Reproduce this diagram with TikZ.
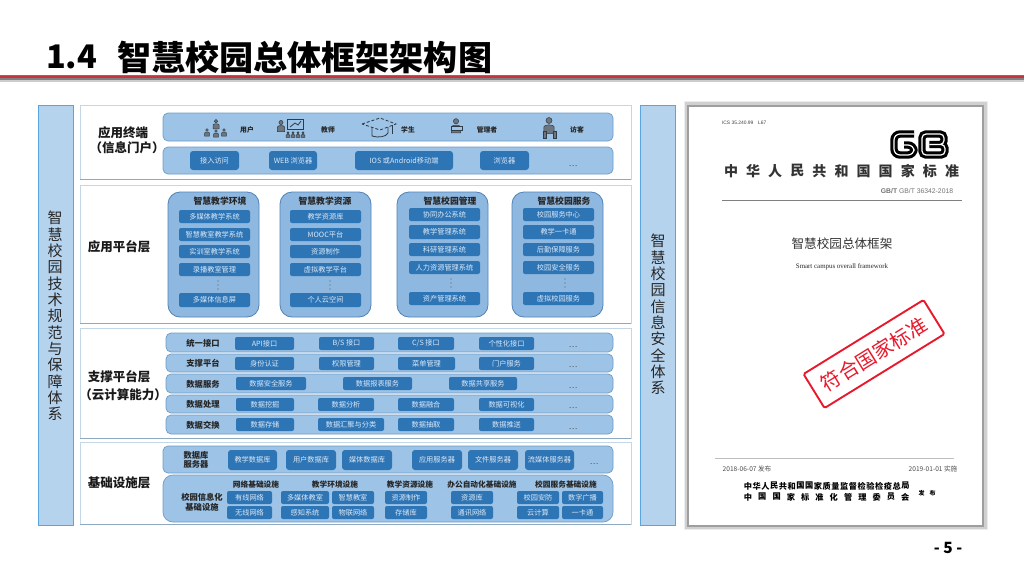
\documentclass[tikz,border=0pt]{standalone}
\usepackage{fontspec}
\setmainfont{Noto Sans CJK SC}
\newfontfamily\latinsans{Liberation Sans}
\newfontfamily\latinserif{Liberation Serif}
\definecolor{colfill}{HTML}{B6D3EE}
\definecolor{colline}{HTML}{5BA5DE}
\definecolor{rowfill}{HTML}{9DC3E6}
\definecolor{rowline}{HTML}{6F9CC8}
\definecolor{panelfill}{HTML}{8FB8E0}
\definecolor{panelline}{HTML}{4F83B8}
\definecolor{btnfill}{HTML}{2E75B6}
\definecolor{btntext}{HTML}{DCE9F6}
\definecolor{framelight}{HTML}{C4D7E6}
\definecolor{framedark}{HTML}{8FAABF}
\definecolor{stampred}{HTML}{E8192C}
\definecolor{titlered}{HTML}{C8323F}
\definecolor{icondark}{HTML}{2F3B47}
\newcommand\fs[1]{\fontsize{#1}{#1}\selectfont}
\tikzset{
  base/.style={inner sep=0pt,outer sep=0pt,align=center},
  framebox/.style={base,fill=white,draw=framelight,line width=.9pt},
  colbox/.style={base,fill=colfill,draw=colline,line width=.9pt},
  rowbox/.style={base,fill=rowfill,draw=rowline,line width=.7pt,rounded corners=5pt},
  panelbox/.style={base,fill=panelfill,draw=panelline,line width=.8pt,rounded corners=12pt},
  btn/.style={base,fill=btnfill,rounded corners=2pt,text=btntext,font=\fs{7.2}},
  bigbtn/.style={btn,rounded corners=3pt},
  head/.style={base,font=\fs{12.5}\bfseries,text=black!90},
  sub/.style={base,font=\fs{8.3}\bfseries,text=black!85},
  paneltitle/.style={base,font=\fs{8.8}\bfseries,text=black!85},
  infrahead/.style={base,font=\fs{7.7}\bfseries,text=black!85},
  iconlabel/.style={base,font=\fs{6.8}\bfseries,text=black!85},
  coltxt/.style={base,font=\fs{15},text=black!85},
  more/.style={base,font=\fs{8},text=black!70},
  icon/.style={draw=icondark,line width=.8pt,fill=none},
  iconfill/.style={draw=icondark,line width=.5pt,fill=icondark!70!white},
}
\newcommand\bx[6]{\node[#5,minimum width={(#3-#1)*1pt},minimum height={(#4-#2)*1pt}] (n#1-#2) at ({(#1+#3)/2},{(#2+#4)/2}) {#6};}
\newcommand\txt[4]{\node[#3] (t#1-#2) at (#1,#2) {#4};}
\newcommand\vd[2]{\fill[black!65] (#1,#2-4) circle (.6) (#1,#2) circle (.6) (#1,#2+4) circle (.6);}
\newcommand\persn[3]{%
  \draw[iconfill] (#1,#2-5*#3) circle ({2.3*#3});
  \draw[iconfill] (#1-4*#3,#2+5*#3) -- (#1-4*#3,#2) .. controls (#1-4*#3,#2-2.2*#3) and (#1+4*#3,#2-2.2*#3) .. (#1+4*#3,#2) -- (#1+4*#3,#2+5*#3) -- cycle;}
\begin{document}
\begin{tikzpicture}[x=1pt,y=-1pt]
\useasboundingbox (0,0) rectangle (1024,570);
\fill[white] (0,0) rectangle (1024,570);

% title
\node[base,anchor=west,font=\fs{32.5}\bfseries] (tnum) at (46,57) {1.4};
\node[base,anchor=west,font=\fs{34.1}\bfseries] (ttitle) at (117,57) {智慧校园总体框架架构图};
\fill[black!55] (0,75.2) rectangle (1024,76);
\fill[titlered] (0,76) rectangle (1024,78.4);
\fill[black!50] (0,78.4) rectangle (1024,80.4);
\fill[black!20] (0,80.4) rectangle (1024,81.5);

% side columns
\bx{38}{105}{73}{525}{colbox}{}
\bx{640}{105}{675}{525}{colbox}{}
\foreach \c [count=\i from 0] in {智,慧,校,园,技,术,规,范,与,保,障,体,系}
  \node[coltxt] (lc\i) at (55,{218+16.35*\i}) {\c};
\foreach \c [count=\i from 0] in {智,慧,校,园,信,息,安,全,体,系}
  \node[coltxt] (rc\i) at (658,{241+16.35*\i}) {\c};

% frames
\bx{80}{105}{631}{179}{framebox}{}
\bx{80}{185}{631}{323}{framebox}{}
\bx{80}{328}{631}{438}{framebox}{}
\bx{80}{442}{631}{524}{framebox}{}
\foreach \f in {n80-105,n80-185,n80-328,n80-442}
  \draw[framedark,line width=1pt] (\f.south west) -- (\f.south east);

% terminal layer
\txt{123}{133}{head}{应用终端}
\txt{127}{148}{head}{（信息门户）}
\bx{163}{113}{613}{141}{rowbox}{}
\bx{163}{147}{613}{174}{rowbox}{}
\txt{247}{130}{iconlabel}{用户}
\txt{328}{130}{iconlabel}{教师}
\txt{408}{130}{iconlabel}{学生}
\txt{487}{130}{iconlabel}{管理者}
\txt{577}{130}{iconlabel}{访客}
\bx{190}{151}{239}{170}{bigbtn}{接入访问}
\bx{269}{151}{317}{170}{bigbtn}{WEB 浏览器}
\bx{355}{151}{453}{170}{bigbtn}{IOS 或Android移动端}
\bx{480}{151}{529}{170}{bigbtn}{浏览器}
\txt{573}{166}{more}{…}

% icons: users
\persn{216}{125}{.75}
\persn{207}{133}{.6}
\persn{216}{134}{.6}
\persn{224}{133}{.6}
% icons: teacher
\draw[icon] (287,119) rectangle (303,129);
\draw[icon] (290,127) -- (295,123) -- (298,125) -- (301,121);
\persn{281}{127}{.9}
\foreach \p in {288,293,298,303}{\persn{\p}{135}{.45}}
% icons: cap
\draw[icon,fill=rowfill] (372,127) -- (372,136) .. controls (378,138) and (386,137) .. (388,133) -- (388,127);
\draw[icon,fill=rowfill,densely dashed] (362,124) -- (380,118) -- (396,124) -- (380,130) -- cycle;
\draw[icon] (392,125) -- (392,134);
% icons: manager, visitor
\persn{456}{127}{1.15}
\draw[icon,fill=rowfill] (451,126) rectangle (462,130);
\persn{549}{127}{1.3}
\draw[iconfill] (543,131) rectangle (546,138) (553,131) rectangle (556,138);

% platform layer
\txt{119}{247}{head}{应用平台层}
\bx{168}{192}{259}{317}{panelbox}{}
\bx{280}{192}{371}{317}{panelbox}{}
\bx{397}{192}{488}{317}{panelbox}{}
\bx{512}{192}{603}{317}{panelbox}{}
\txt{220}{201}{paneltitle}{智慧教学环境}
\txt{325}{201}{paneltitle}{智慧教学资源}
\txt{450}{201}{paneltitle}{智慧校园管理}
\txt{564}{201}{paneltitle}{智慧校园服务}
\bx{179}{210}{250}{223}{btn}{多媒体教学系统}
\bx{179}{228}{250}{241}{btn}{智慧教室教学系统}
\bx{179}{245}{250}{258}{btn}{实训室教学系统}
\bx{179}{263}{250}{276}{btn}{录播教室管理}
\vd{218}{285}
\bx{179}{293}{250}{307}{btn}{多媒体信息屏}
\bx{290}{210}{361}{223}{btn}{教学资源库}
\bx{290}{228}{361}{241}{btn}{MOOC平台}
\bx{290}{245}{361}{258}{btn}{资源制作}
\bx{290}{263}{361}{276}{btn}{虚拟教学平台}
\vd{330}{285}
\bx{290}{293}{361}{307}{btn}{个人云空间}
\bx{409}{208}{480}{221}{btn}{协同办公系统}
\bx{409}{225}{480}{239}{btn}{教学管理系统}
\bx{409}{243}{480}{256}{btn}{科研管理系统}
\bx{409}{261}{480}{274}{btn}{人力资源管理系统}
\vd{451}{283}
\bx{409}{292}{480}{305}{btn}{资产管理系统}
\bx{523}{208}{594}{221}{btn}{校园服务中心}
\bx{523}{225}{594}{239}{btn}{教学一卡通}
\bx{523}{243}{594}{256}{btn}{后勤保障服务}
\bx{523}{261}{594}{274}{btn}{校园安全服务}
\vd{565}{283}
\bx{523}{292}{594}{305}{btn}{虚拟校园服务}

% support layer
\txt{119}{377}{head}{支撑平台层}
\txt{123}{395}{head}{（云计算能力）}
\bx{166}{333}{613}{352}{rowbox}{}
\bx{166}{354}{613}{372}{rowbox}{}
\bx{166}{374}{613}{393}{rowbox}{}
\bx{166}{395}{613}{413}{rowbox}{}
\bx{166}{415}{613}{434}{rowbox}{}
\txt{203}{343}{sub}{统一接口}
\txt{203}{363}{sub}{支撑平台}
\txt{203}{384}{sub}{数据服务}
\txt{203}{404}{sub}{数据处理}
\txt{203}{425}{sub}{数据交换}
\bx{235}{337}{294}{350}{btn}{API接口}
\bx{319}{337}{374}{350}{btn}{B/S 接口}
\bx{398}{337}{454}{350}{btn}{C/S 接口}
\bx{479}{337}{534}{350}{btn}{个性化接口}
\txt{573}{347}{more}{…}
\bx{235}{357}{294}{370}{btn}{身份认证}
\bx{319}{357}{374}{370}{btn}{权限管理}
\bx{398}{357}{455}{370}{btn}{菜单管理}
\bx{479}{357}{534}{370}{btn}{门户服务}
\txt{573}{367}{more}{…}
\bx{236}{377}{306}{390}{btn}{数据安全服务}
\bx{343}{377}{412}{390}{btn}{数据报表服务}
\bx{449}{377}{517}{390}{btn}{数据共享服务}
\txt{573}{388}{more}{…}
\bx{236}{398}{294}{411}{btn}{数据挖掘}
\bx{318}{398}{374}{411}{btn}{数据分析}
\bx{398}{398}{454}{411}{btn}{数据融合}
\bx{479}{398}{534}{411}{btn}{数据可视化}
\txt{573}{408}{more}{…}
\bx{236}{418}{294}{431}{btn}{数据存储}
\bx{318}{418}{384}{431}{btn}{数据汇聚与分类}
\bx{398}{418}{454}{431}{btn}{数据抽取}
\bx{479}{418}{534}{431}{btn}{数据推送}
\txt{573}{429}{more}{…}

% infrastructure layer
\txt{119}{483}{head}{基础设施层}
\bx{163}{446}{613}{473}{rowbox}{}
\node[rowbox,rounded corners=10pt,minimum width=450pt,minimum height=47pt] (infra) at (388,498.5) {};
\node[sub,align=center] (tdb) at (196,460) {数据库\\[1pt]服务器};
\bx{228}{450}{277}{470}{bigbtn}{教学数据库}
\bx{286}{450}{336}{470}{bigbtn}{用户数据库}
\bx{342}{450}{392}{470}{bigbtn}{媒体数据库}
\bx{412}{450}{462}{470}{bigbtn}{应用服务器}
\bx{468}{450}{518}{470}{bigbtn}{文件服务器}
\bx{525}{450}{574}{470}{bigbtn}{流媒体服务器}
\txt{594}{464}{more}{…}
\node[sub,align=center] (tinf) at (202,502) {校园信息化\\[2pt]基础设施};
\txt{256}{485}{infrahead}{网络基础设施}
\txt{335}{485}{infrahead}{教学环境设施}
\txt{410}{485}{infrahead}{教学资源设施}
\txt{482}{485}{infrahead}{办公自动化基础设施}
\txt{566}{485}{infrahead}{校园服务基础设施}
\bx{227}{491}{272}{504}{btn}{有线网络}
\bx{227}{506}{272}{519}{btn}{无线网络}
\bx{281}{491}{329}{504}{btn}{多媒体教室}
\bx{281}{506}{329}{519}{btn}{感知系统}
\bx{332}{491}{374}{504}{btn}{智慧教室}
\bx{332}{506}{374}{519}{btn}{物联网络}
\bx{385}{491}{427}{504}{btn}{资源制作}
\bx{385}{506}{427}{519}{btn}{存储库}
\bx{451}{491}{493}{504}{btn}{资源库}
\bx{451}{506}{493}{519}{btn}{通讯网络}
\bx{517}{491}{559}{504}{btn}{校园安防}
\bx{517}{506}{559}{519}{btn}{云计算}
\bx{562}{491}{603}{504}{btn}{数字广播}
\bx{562}{506}{603}{519}{btn}{一卡通}

% document
\foreach \w/\o in {6/.07,4/.12}
  \draw[black,opacity=\o,line width=\w pt] (686.5,103.5) rectangle (984.5,527);
\node[base,fill=white,draw=black!38,line width=1.6pt,minimum width=295pt,minimum height=420pt] (doc) at (835.5,316) {};
\node[base,anchor=west,font=\latinsans\fs{4.9},text=black!75] (tics) at (722,123) {ICS 35.240.99\quad L67};
% GB logo
\foreach \lw/\col in {7.4/black,1.2/white}{
  \draw[\col,line width=\lw pt,rounded corners=6pt] (914,134) -- (894,134) -- (894,155) -- (914,155) -- (914,145) -- (904,145);
  \draw[\col,line width=\lw pt,rounded corners=4pt] (922,134) -- (944,134) -- (944,144.5) -- (927,144.5) -- (945,144.5) -- (945,155) -- (922,155) -- cycle;
}
\foreach \c [count=\i from 0] in {中,华,人,民,共,和,国,国,家,标,准}
  \node[base,font=\fs{14}\bfseries,text=black!80] (nat\i) at ({731+22.1*\i},171) {\c};
\node[base,font=\latinsans\fs{6.8},text=black!55] (tgbt) at (917,191) {\textbf{GB/T} GB/T 36342-2018};
\draw[black!50,line width=.8pt] (722,200) coordinate (r1a) -- (962,200) coordinate (r1b);
\node[base,font=\fs{12.6},text=black!80] (tdoc) at (842,244) {智慧校园总体框架};
\node[base,font=\latinserif\fs{6.9},text=black!85] (ten) at (842,267) {Smart campus overall framework};
\node[base,rotate=31.7,draw=stampred,line width=1.9pt,rounded corners=1.5pt,text=stampred,font=\fs{20},minimum width=141pt,minimum height=40pt] (stamp) at (874,354) {符合国家标准};
\draw[black!25,line width=.9pt] (715,458) coordinate (r2a) -- (954,458) coordinate (r2b);
\node[base,font=\fs{6.6},text=black!70] (td1) at (747,469) {2018-06-07 发布};
\node[base,font=\fs{6.6},text=black!70] (td2) at (933,469) {2019-01-01 实施};
\foreach \c [count=\i from 0] in {中,华,人,民,共,和,国,国,家,质,量,监,督,检,验,检,疫,总,局}
  \node[base,font=\fs{8.2}\bfseries] (pa\i) at ({748+8.75*\i},486) {\c};
\foreach \c [count=\i from 0] in {中,国,国,家,标,准,化,管,理,委,员,会}
  \node[base,font=\fs{8.2}\bfseries] (pb\i) at ({748+14.3*\i},497) {\c};
\node[base,font=\fs{6}\bfseries] (tfb) at (927,493) {发\hspace{5pt}布};

% page number
\node[base,font=\fs{15.5}\bfseries] (tpage) at (948,548) {- 5 -};
\end{tikzpicture}
\end{document}
